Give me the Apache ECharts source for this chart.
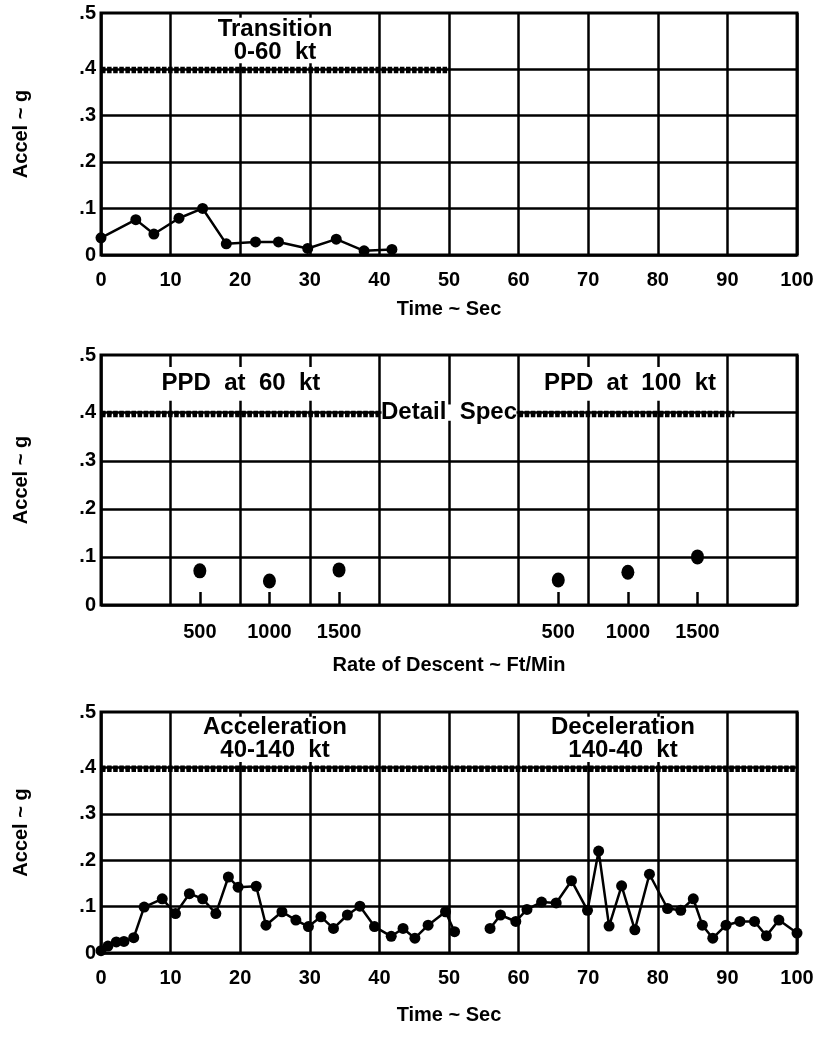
<!DOCTYPE html>
<html>
<head>
<meta charset="utf-8">
<title>Accel ~ g</title>
<script src="https://cdn.jsdelivr.net/npm/echarts@6/dist/echarts.min.js"></script>
<style>
  html, body { margin: 0; padding: 0; background: #fff; }
  #chart { width: 828px; height: 1040px; }
</style>
</head>
<body>
<div id="chart"></div>
<script>
// Transition 0-60 kt
const transTime  = [0, 5.0, 7.6, 11.2, 14.6, 18.0, 22.2, 25.5, 29.7, 33.8, 37.8, 41.8];
const transAccel = [0.037, 0.076, 0.045, 0.079, 0.100, 0.024, 0.028, 0.028, 0.014, 0.034, 0.009, 0.012];

// Precision power descent, rate of descent (ft/min)
const rateTicks   = [500, 1000, 1500];
const ppd60Rate   = [500, 1000, 1500];
const ppd60Accel  = [0.071, 0.050, 0.073];
const ppd100Rate  = [500, 1000, 1500];
const ppd100Accel = [0.052, 0.068, 0.100];

// Acceleration 40-140 kt
const accelTime = [0, 1.0, 2.2, 3.3, 4.7, 6.2, 8.8, 10.7, 12.7, 14.6, 16.5, 18.3, 19.7, 22.3, 23.7,
                   26.0, 28.0, 29.8, 31.6, 33.4, 35.4, 37.2, 39.3, 41.7, 43.4, 45.1, 47.0, 49.5, 50.8];
const accelG    = [0.005, 0.015, 0.024, 0.025, 0.033, 0.099, 0.117, 0.085, 0.128, 0.117, 0.085, 0.164, 0.142, 0.144, 0.060,
                   0.089, 0.071, 0.057, 0.078, 0.053, 0.082, 0.101, 0.057, 0.036, 0.053, 0.032, 0.060, 0.089, 0.046];

// Deceleration 140-40 kt
const decelTime = [55.9, 57.4, 59.6, 61.2, 63.3, 65.4, 67.6, 69.9, 71.5, 73.0, 74.8, 76.7,
                   78.8, 81.4, 83.3, 85.1, 86.4, 87.9, 89.8, 91.8, 93.9, 95.6, 97.4, 100];
const decelG    = [0.053, 0.082, 0.068, 0.094, 0.110, 0.108, 0.156, 0.092, 0.220, 0.058, 0.145, 0.050,
                   0.170, 0.096, 0.092, 0.117, 0.060, 0.032, 0.060, 0.068, 0.068, 0.037, 0.071, 0.043];

// Detail specification limit and where it is drawn
const specG          = 0.4;
const specSpanTop    = [0, 50];
const specSpanPpdA   = [0, 40];
const specSpanPpdB   = [60, 91];
const specSpanBottom = [0, 100];

// Tick labels; the top edge of each frame carries the ".5" label
const timeTickLabels  = ['0', '10', '20', '30', '40', '50', '60', '70', '80', '90', '100'];
const accelTickLabels = ['0', '.1', '.2', '.3', '.4', '.5'];
const accelGridValues = [0, 0.1, 0.2, 0.3, 0.4];
const accelTop        = 0.52;

const FONT = "'Liberation Sans', Arial, Helvetica, sans-serif";
const INK = '#000';

function pairs(xs, ys) { return xs.map((x, i) => [x, ys[i]]); }

const textBase = { fontFamily: FONT, fontWeight: 'bold', color: INK };

function gridBox(top, height) {
  return { left: 101, right: 31, top: top, height: height, show: true,
           borderColor: INK, borderWidth: 3, backgroundColor: '#fff' };
}

function timeAxis(gridIndex, showLabels, name, nameGap) {
  return {
    type: 'value', gridIndex: gridIndex, min: 0, max: 100, interval: 10,
    axisLine: { show: false }, axisTick: { show: false },
    splitLine: { show: true, lineStyle: { color: INK, width: 2.5 } },
    axisLabel: { show: showLabels, margin: 15, fontSize: 20, ...textBase,
                 formatter: v => timeTickLabels[Math.round(v / 10)] },
    name: name || '', nameLocation: 'middle', nameGap: nameGap || 46,
    nameTextStyle: { fontSize: 20, ...textBase }
  };
}

function accelAxis(gridIndex) {
  return {
    type: 'value', gridIndex: gridIndex, min: 0, max: accelTop, interval: 0.1,
    axisLine: { show: false },
    axisTick: { show: false, customValues: accelGridValues },
    splitLine: { show: true, lineStyle: { color: INK, width: 2.5 } },
    axisLabel: { margin: 5, fontSize: 20, ...textBase,
                 customValues: accelGridValues.concat([accelTop]),
                 formatter: v => accelTickLabels[Math.round(v * 10)] },
    name: 'Accel ~ g', nameLocation: 'middle', nameRotate: 90, nameGap: 70,
    nameTextStyle: { fontSize: 20, ...textBase }
  };
}

// Rate-of-descent axis for one PPD group; min/max place the group under its own columns
function rateAxis(min, name) {
  return {
    type: 'value', gridIndex: 1, min: min, max: min + 5000, position: 'bottom',
    axisLine: { show: false },
    splitLine: { show: false },
    axisTick: { show: true, inside: true, length: 13, customValues: rateTicks,
                lineStyle: { color: INK, width: 2.5 } },
    axisLabel: { show: true, margin: 17, fontSize: 20, ...textBase, customValues: rateTicks,
                 formatter: v => String(v) },
    name: name || '', nameLocation: 'middle', nameGap: 50,
    nameTextStyle: { fontSize: 20, ...textBase }
  };
}

function specLine(xAxisIndex, yAxisIndex, span, boxes) {
  const s = {
    type: 'line', xAxisIndex: xAxisIndex, yAxisIndex: yAxisIndex, silent: true,
    symbol: 'none', z: 3,
    data: [[span[0], specG], [span[1], specG]],
    lineStyle: { color: INK, width: 4, type: [4.5, 1.6],
                 shadowColor: INK, shadowBlur: 0, shadowOffsetY: 2.5 }
  };
  if (boxes) {
    s.markArea = {
      silent: true,
      itemStyle: { color: '#fff', opacity: 1, borderWidth: 0 },
      label: { show: true, position: 'inside', fontSize: 24, lineHeight: 23, ...textBase },
      data: boxes.map(b => [
        { name: b.text, xAxis: b.x[0], yAxis: b.y[0] },
        { xAxis: b.x[1], yAxis: b.y[1] }
      ])
    };
  }
  return s;
}

function trace(xAxisIndex, yAxisIndex, xs, ys) {
  return {
    type: 'line', xAxisIndex: xAxisIndex, yAxisIndex: yAxisIndex, z: 5,
    data: pairs(xs, ys), symbol: 'circle', symbolSize: 11, showSymbol: true,
    lineStyle: { color: INK, width: 2.5 }, itemStyle: { color: INK }
  };
}

function dots(xAxisIndex, xs, ys) {
  return {
    type: 'scatter', xAxisIndex: xAxisIndex, yAxisIndex: 1, z: 5,
    data: pairs(xs, ys), symbol: 'circle', symbolSize: [13, 15],
    itemStyle: { color: INK, opacity: 1 }
  };
}

const chart = echarts.init(document.getElementById('chart'), null, { renderer: 'canvas' });

chart.setOption({
  animation: false,
  backgroundColor: '#fff',
  grid: [gridBox(13, 242), gridBox(355, 250), gridBox(712, 241)],
  xAxis: [
    timeAxis(0, true, 'Time ~ Sec', 44),
    timeAxis(1, false),
    rateAxis(-210, 'Rate of Descent ~ Ft/Min'),
    rateAxis(-2785),
    timeAxis(2, true, 'Time ~ Sec', 52)
  ],
  yAxis: [accelAxis(0), accelAxis(1), accelAxis(2)],
  series: [
    specLine(0, 0, specSpanTop, [
      { text: 'Transition\n0-60  kt', x: [11, 39], y: [0.412, 0.51] }
    ]),
    trace(0, 0, transTime, transAccel),

    specLine(1, 1, specSpanPpdA, [
      { text: 'PPD  at  60  kt', x: [8.5, 31.7], y: [0.425, 0.495] },
      { text: 'PPD  at  100  kt', x: [66, 86], y: [0.425, 0.495] },
      { text: 'Detail  Spec', x: [40.3, 59.7], y: [0.383, 0.417] }
    ]),
    specLine(1, 1, specSpanPpdB),
    dots(2, ppd60Rate, ppd60Accel),
    dots(3, ppd100Rate, ppd100Accel),

    specLine(4, 2, specSpanBottom, [
      { text: 'Acceleration\n40-140  kt', x: [11, 39], y: [0.412, 0.51] },
      { text: 'Deceleration\n140-40  kt', x: [61, 89], y: [0.412, 0.51] }
    ]),
    trace(4, 2, accelTime, accelG),
    trace(4, 2, decelTime, decelG)
  ]
});
</script>
</body>
</html>
